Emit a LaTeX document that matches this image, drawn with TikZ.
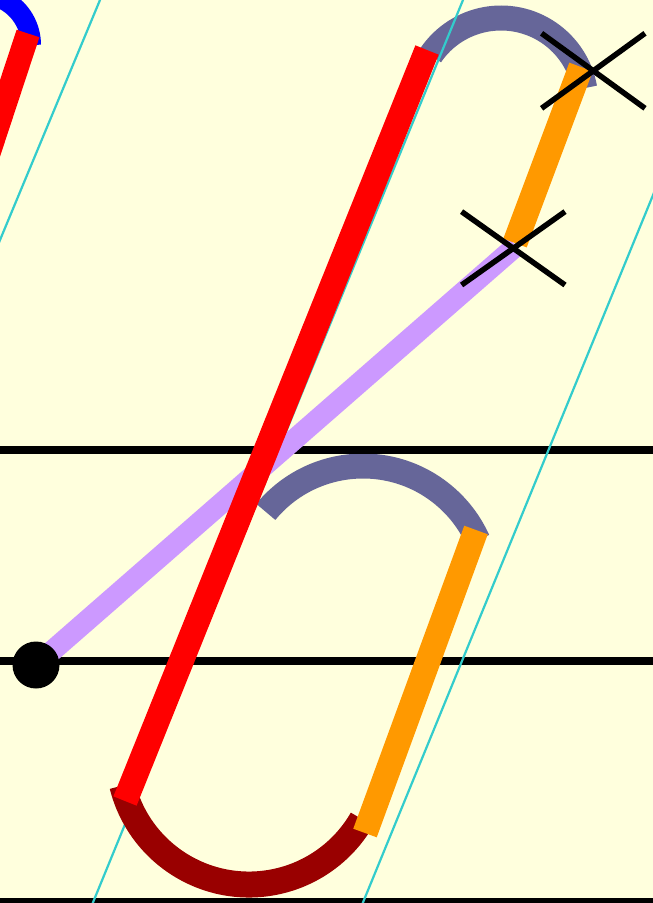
\documentclass[tikz,border=0pt]{standalone}
\definecolor{bgyellow}{HTML}{FFFFDD}
\definecolor{gridcyan}{HTML}{33CCCC}
\definecolor{slate}{HTML}{666699}
\definecolor{darkred}{HTML}{990000}
\definecolor{lilac}{HTML}{CC99FF}
\definecolor{orangeband}{HTML}{FF9900}
\begin{document}
\begin{tikzpicture}[x=1pt,y=-1pt,line cap=butt,
  band/.style={line width=25pt},
  gridline/.style={draw=gridcyan,line width=2.2pt},
  rule/.style={draw=black,line width=8pt},
  crossline/.style={draw=black,line width=5.5pt}]
\useasboundingbox (0,0) rectangle (653,903);
\clip (0,0) rectangle (653,903);
\fill[bgyellow] (0,0) rectangle (653,903);
% named points
\coordinate (slateTopC) at (501,103);
\coordinate (slateLowC) at (363,592);
\coordinate (blueC) at (-20,45);
\coordinate (darkC) at (249,754);
\coordinate (redTop) at (427,50);
\coordinate (redBot) at (125,801);
\coordinate (smallRedTop) at (28,33.5);
\coordinate (smallRedBot) at (-38,233.5);
\coordinate (dot) at (36,665);
\coordinate (purpleEnd) at (516,246);
\coordinate (orUpTop) at (581,67);
\coordinate (orUpBot) at (515,243);
\coordinate (orLowTop) at (476,530);
\coordinate (orLowBot) at (365,833);
\coordinate (crossA) at (593.3,70.8);
\coordinate (crossB) at (513.3,248.3);
% slate arcs
\draw[band,slate] (slateTopC) ++(-145.6:85) arc[start angle=-145.6,end angle=-10.1,radius=85];
\draw[band,slate] (slateLowC) ++(-140.5:126) arc[start angle=-140.5,end angle=-24.3,radius=126];
% blue arc
\draw[line width=20pt,blue] (blueC) ++(-150:51) arc[start angle=-150,end angle=0,radius=51];
% black rules
\draw[rule] (-10,450) -- (663,450);
\draw[rule] (-10,661) -- (663,661);
\draw[rule] (-10,902) -- (663,902);
% cyan grid lines
\draw[gridline] (110,-24) -- (-10,264);
\draw[gridline] (473.25,-25) -- (82.5,928);
\draw[gridline] (671.5,150) -- (352.5,928);
% dark red arc
\draw[line width=26pt,darkred] (darkC) ++(166:130.5) arc[start angle=166,end angle=30,radius=130.5];
% purple
\draw[line width=21pt,lilac] (dot) -- (purpleEnd);
% orange
\draw[band,orangeband] (orUpTop) -- (orUpBot);
\draw[band,orangeband] (orLowTop) -- (orLowBot);
% red
\draw[band,red] (redTop) -- (redBot);
\draw[line width=24pt,red] (smallRedTop) -- (smallRedBot);
% dot
\fill[black] (dot) circle[radius=23.5];
% crosses
\draw[crossline] (crossA) ++(-51.7,-37.5) -- ++(103.4,75);
\draw[crossline] (crossA) ++(51.7,-37.5) -- ++(-103.4,75);
\draw[crossline] (crossB) ++(-51.7,-36.7) -- ++(103.4,73.4);
\draw[crossline] (crossB) ++(51.7,-36.7) -- ++(-103.4,73.4);
\end{tikzpicture}
\end{document}
